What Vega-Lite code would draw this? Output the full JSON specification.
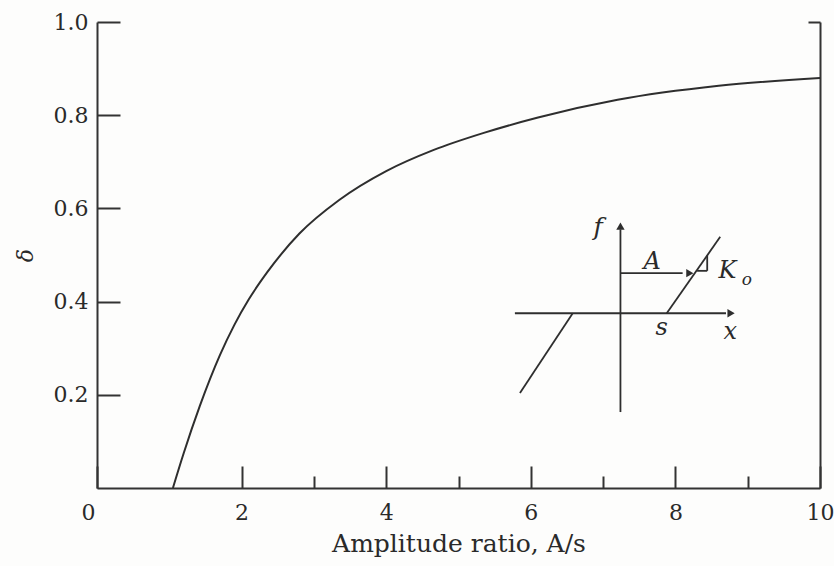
{
  "$schema": "https://vega.github.io/schema/vega-lite/v6.json",
  "width": 723,
  "height": 466,
  "autosize": "none",
  "padding": {"left": 97, "top": 22, "right": 14, "bottom": 78},
  "background": "#fdfdfc",
  "config": {
    "view": {"stroke": null},
    "font": "DejaVu Serif",
    "axis": {
      "domainColor": "#333333",
      "domainWidth": 2,
      "tickColor": "#333333",
      "tickWidth": 2,
      "grid": false,
      "labelFont": "DejaVu Serif",
      "labelFontSize": 22,
      "labelColor": "#2a2a2a",
      "labelFlush": false,
      "titleFont": "DejaVu Serif",
      "titleFontSize": 22,
      "titleFontWeight": "normal",
      "titleColor": "#2a2a2a"
    }
  },
  "datasets": {
    "curve": [
      {"ratio": 1.05, "delta": 0.0},
      {"ratio": 1.2, "delta": 0.075},
      {"ratio": 1.42, "delta": 0.175},
      {"ratio": 1.7, "delta": 0.285},
      {"ratio": 1.9, "delta": 0.35},
      {"ratio": 2.1, "delta": 0.405},
      {"ratio": 2.35, "delta": 0.462},
      {"ratio": 2.8, "delta": 0.546},
      {"ratio": 3.35, "delta": 0.618},
      {"ratio": 4.0, "delta": 0.68},
      {"ratio": 4.65, "delta": 0.725},
      {"ratio": 5.35, "delta": 0.762},
      {"ratio": 6.1, "delta": 0.795},
      {"ratio": 7.2, "delta": 0.833},
      {"ratio": 8.6, "delta": 0.863},
      {"ratio": 10.0, "delta": 0.88}
    ],
    "sketchLines": [
      {"part": "f axis", "x": 7.24, "y": 0.163, "x2": 7.24, "y2": 0.555},
      {"part": "x axis", "x": 5.78, "y": 0.375, "x2": 8.7, "y2": 0.375},
      {"part": "upper slope", "x": 7.88, "y": 0.375, "x2": 8.62, "y2": 0.539},
      {"part": "lower slope", "x": 6.58, "y": 0.375, "x2": 5.85, "y2": 0.204},
      {"part": "A arrow", "x": 7.24, "y": 0.461, "x2": 8.1, "y2": 0.461},
      {"part": "triangle base", "x": 8.3, "y": 0.466, "x2": 8.44, "y2": 0.466},
      {"part": "triangle side", "x": 8.44, "y": 0.466, "x2": 8.44, "y2": 0.499}
    ],
    "sketchHeads": [
      {"dir": "up", "x": 7.24, "y": 0.562},
      {"dir": "right", "x": 8.77, "y": 0.375},
      {"dir": "right", "x": 8.2, "y": 0.461}
    ],
    "sketchText": [
      {"label": "f", "x": 6.93, "y": 0.56, "size": 25},
      {"label": "A", "x": 7.68, "y": 0.485, "size": 24},
      {"label": "K", "x": 8.72, "y": 0.466, "size": 24},
      {"label": "o", "x": 8.99, "y": 0.447, "size": 17},
      {"label": "s", "x": 7.81, "y": 0.343, "size": 24},
      {"label": "x", "x": 8.76, "y": 0.335, "size": 24}
    ]
  },
  "resolve": {"axis": {"x": "independent", "y": "independent"}},
  "layer": [
    {
      "data": {"name": "curve"},
      "mark": {"type": "line", "color": "#2e2e2e", "strokeWidth": 2, "interpolate": "monotone"},
      "encoding": {
        "x": {
          "field": "ratio",
          "type": "quantitative",
          "scale": {"domain": [0, 10], "nice": false, "zero": false},
          "axis": {
            "orient": "bottom",
            "values": [0, 2, 4, 6, 8, 10],
            "tickSize": -22,
            "labelPadding": 36,
            "labelOffset": {"condition": {"test": "datum.value == 0", "value": -9}, "value": 0},
            "title": "Amplitude ratio, A/s",
            "titleFontSize": 25,
            "titlePadding": 8
          }
        },
        "y": {
          "field": "delta",
          "type": "quantitative",
          "scale": {"domain": [0, 1], "nice": false},
          "axis": {
            "orient": "left",
            "values": [0.2, 0.4, 0.6, 0.8, 1.0],
            "format": ".1f",
            "tickSize": -23,
            "labelPadding": 32,
            "title": "δ",
            "titleFontStyle": "italic",
            "titlePadding": 16
          }
        }
      }
    },
    {
      "data": {"values": [{"ratio": 3, "delta": 0}, {"ratio": 5, "delta": 0}, {"ratio": 7, "delta": 0}, {"ratio": 9, "delta": 0}]},
      "mark": {"type": "point", "opacity": 0},
      "encoding": {
        "x": {
          "field": "ratio",
          "type": "quantitative",
          "axis": {
            "orient": "bottom",
            "values": [3, 5, 7, 9],
            "tickSize": -12,
            "labels": false,
            "domain": false,
            "title": null
          }
        },
        "y": {
          "field": "delta",
          "type": "quantitative",
          "axis": {
            "orient": "right",
            "values": [1.0],
            "tickSize": -12,
            "labels": false,
            "title": null
          }
        }
      }
    },
    {
      "data": {"name": "sketchLines"},
      "mark": {"type": "rule", "color": "#2e2e2e", "strokeWidth": 1.8},
      "encoding": {
        "x": {"field": "x", "type": "quantitative", "axis": null},
        "y": {"field": "y", "type": "quantitative", "axis": null},
        "x2": {"field": "x2"},
        "y2": {"field": "y2"}
      }
    },
    {
      "data": {"name": "sketchHeads"},
      "mark": {"type": "point", "filled": true, "color": "#2e2e2e", "opacity": 1, "size": 70},
      "encoding": {
        "x": {"field": "x", "type": "quantitative", "axis": null},
        "y": {"field": "y", "type": "quantitative", "axis": null},
        "shape": {
          "field": "dir",
          "type": "nominal",
          "scale": {"domain": ["up", "right"], "range": ["triangle-up", "triangle-right"]},
          "legend": null
        }
      }
    },
    {
      "data": {"name": "sketchText"},
      "mark": {"type": "text", "font": "DejaVu Serif", "fontStyle": "italic", "color": "#2a2a2a", "align": "center", "baseline": "middle"},
      "encoding": {
        "x": {"field": "x", "type": "quantitative", "axis": null},
        "y": {"field": "y", "type": "quantitative", "axis": null},
        "text": {"field": "label"},
        "size": {"field": "size", "type": "quantitative", "scale": null, "legend": null}
      }
    }
  ]
}
